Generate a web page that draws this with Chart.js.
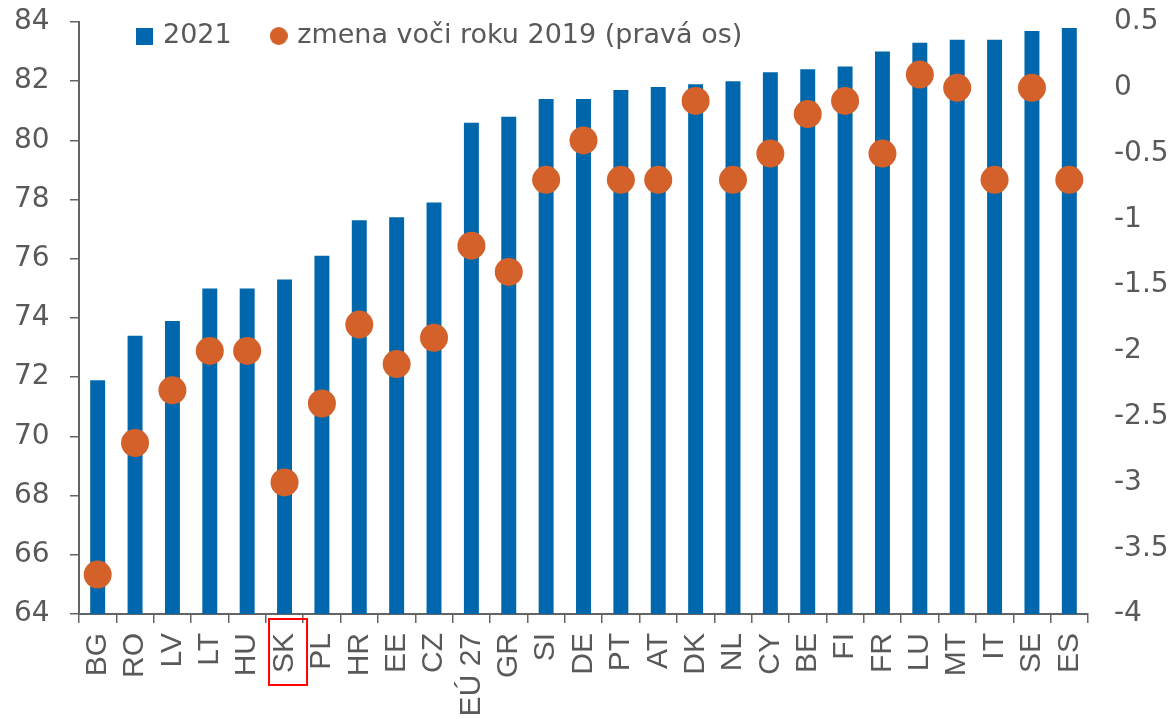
<!DOCTYPE html>
<html><head><meta charset="utf-8">
<script src="https://cdn.jsdelivr.net/npm/chart.js@4"></script>
<style>html,body{margin:0;padding:0;background:#fff;overflow:hidden;}</style>
</head><body>
<canvas id="c" width="1176" height="719" style="display:block;width:1176px;height:719px"></canvas>
<script>
// ---- data ----
const categories = ['BG','RO','LV','LT','HU','SK','PL','HR','EE','CZ','EÚ 27','GR','SI','DE','PT','AT','DK','NL','CY','BE','FI','FR','LU','MT','IT','SE','ES'];
const values2021 = [71.9,73.4,73.9,75.0,75.0,75.3,76.1,77.3,77.4,77.9,80.6,80.8,81.4,81.4,81.7,81.8,81.9,82.0,82.3,82.4,82.5,83.0,83.3,83.4,83.4,83.7,83.8];
const change2019 = [-3.7,-2.7,-2.3,-2.0,-2.0,-3.0,-2.4,-1.8,-2.1,-1.9,-1.2,-1.4,-0.7,-0.4,-0.7,-0.7,-0.1,-0.7,-0.5,-0.2,-0.1,-0.5,0.1,0.0,-0.7,0.0,-0.7];
const seriesNames = ['2021','zmena voči roku 2019 (pravá os)'];
const leftAxisRange = [64, 84, 2];
const rightAxisRange = [-4, 0.5, 0.5];
const highlightCategory = 'SK';

// ---- styles ----
const BLUE = '#0067AC';
const ORANGE = '#D4602A';
const TEXT = '#595959';
const AXIS = '#646464';
const VERDANA = '"DejaVu Sans", Verdana, sans-serif';
const ARIAL = '"Liberation Sans", Arial, sans-serif';

function makeSquare(size, color){
  const c = document.createElement('canvas'); c.width = size; c.height = size;
  const g = c.getContext('2d'); g.fillStyle = color; g.fillRect(0,0,size,size); return c;
}
function makeDot(size, color){
  const c = document.createElement('canvas'); c.width = size; c.height = size;
  const g = c.getContext('2d'); g.fillStyle = color; g.beginPath();
  g.arc(size/2, size/2, size/2, 0, Math.PI*2); g.fill(); return c;
}
const legendSquare = makeSquare(17, BLUE);
const legendDot = makeDot(18, ORANGE);

// legend drawn over the plot area (takes no layout space)
const legendOverlay = {
  id: 'legendOverlay',
  beforeLayout(chart){
    const lg = chart.legend;
    if (lg && !lg.__patched){
      const orig = lg.fit;
      lg.fit = function(){ orig.call(this); this.__h = this.height; this.height = 0; };
      lg.__patched = true;
    }
  },
  afterLayout(chart){
    const lg = chart.legend;
    if (!lg) return;
    const dx = 83.5, top = -19.5;
    lg.left += dx; lg.right += dx;
    lg.top = top; lg.height = lg.__h; lg.bottom = top + lg.__h;
  }
};

const highlightBox = {
  id: 'highlightBox',
  afterDraw(chart){
    const xs = chart.scales.x;
    const i = categories.indexOf(highlightCategory);
    if (i < 0) return;
    const cx = xs.getPixelForValue(i);
    const ctx = chart.ctx;
    ctx.save();
    ctx.strokeStyle = '#FF0000';
    ctx.lineWidth = 2;
    ctx.strokeRect(cx - 15.5, xs.top + 5, 38, 66);
    ctx.restore();
  }
};

new Chart(document.getElementById('c'), {
  type: 'bar',
  data: {
    labels: categories,
    datasets: [
      {
        type: 'bar',
        label: seriesNames[0],
        data: values2021,
        backgroundColor: BLUE,
        borderWidth: 0,
        barPercentage: 0.4,
        categoryPercentage: 1.0,
        yAxisID: 'y',
        order: 2
      },
      {
        type: 'line',
        label: seriesNames[1],
        data: change2019,
        showLine: false,
        pointRadius: 14,
        pointHoverRadius: 14,
        pointBackgroundColor: ORANGE,
        pointBorderWidth: 0,
        backgroundColor: ORANGE,
        borderColor: ORANGE,
        yAxisID: 'y2',
        order: 1
      }
    ]
  },
  options: {
    responsive: false,
    devicePixelRatio: 1,
    animation: false,
    events: [],
    layout: { padding: { top: 22, left: 14, right: 0, bottom: 0 } },
    plugins: {
      tooltip: { enabled: false },
      legend: {
        display: true,
        position: 'top',
        align: 'start',
        labels: {
          usePointStyle: true,
          boxWidth: 10,
          boxHeight: 10,
          padding: 42,
          color: TEXT,
          font: { family: VERDANA, size: 27 },
          sort: (a, b) => a.datasetIndex - b.datasetIndex,
          generateLabels(chart){
            const items = Chart.defaults.plugins.legend.labels.generateLabels(chart);
            items.forEach(it => { it.pointStyle = it.datasetIndex === 0 ? legendSquare : legendDot; });
            return items;
          }
        }
      }
    },
    scales: {
      x: {
        type: 'category',
        offset: true,
        grid: { display: true, offset: true, drawOnChartArea: false, drawTicks: true, tickLength: 9, color: AXIS, lineWidth: 1.5 },
        border: { display: true, color: AXIS, width: 2 },
        ticks: {
          autoSkip: false, maxRotation: 90, minRotation: 90, padding: 10,
          color: TEXT, font: { family: ARIAL, size: 30 }
        },
        afterFit(scale){ scale.height = 105; }
      },
      y: {
        position: 'left',
        min: leftAxisRange[0], max: leftAxisRange[1],
        grid: { display: true, drawOnChartArea: false, drawTicks: true, tickLength: 9, color: AXIS, lineWidth: 1.5 },
        border: { display: true, color: AXIS, width: 2 },
        ticks: { stepSize: leftAxisRange[2], padding: 0, crossAlign: 'far', color: TEXT, font: { family: VERDANA, size: 28 } },
        afterFit(scale){ scale.width = 65; }
      },
      y2: {
        position: 'right',
        min: rightAxisRange[0], max: rightAxisRange[1],
        grid: { display: true, drawOnChartArea: false, drawTicks: true, tickLength: 24, color: 'rgba(0,0,0,0)' },
        border: { display: false },
        ticks: {
          stepSize: rightAxisRange[2], padding: 2, color: TEXT, font: { family: VERDANA, size: 28 },
          callback: (v) => String(Math.round(v * 10) / 10)
        },
        afterFit(scale){ scale.width = 88; }
      }
    }
  },
  plugins: [legendOverlay, highlightBox]
});
</script>
</body></html>
